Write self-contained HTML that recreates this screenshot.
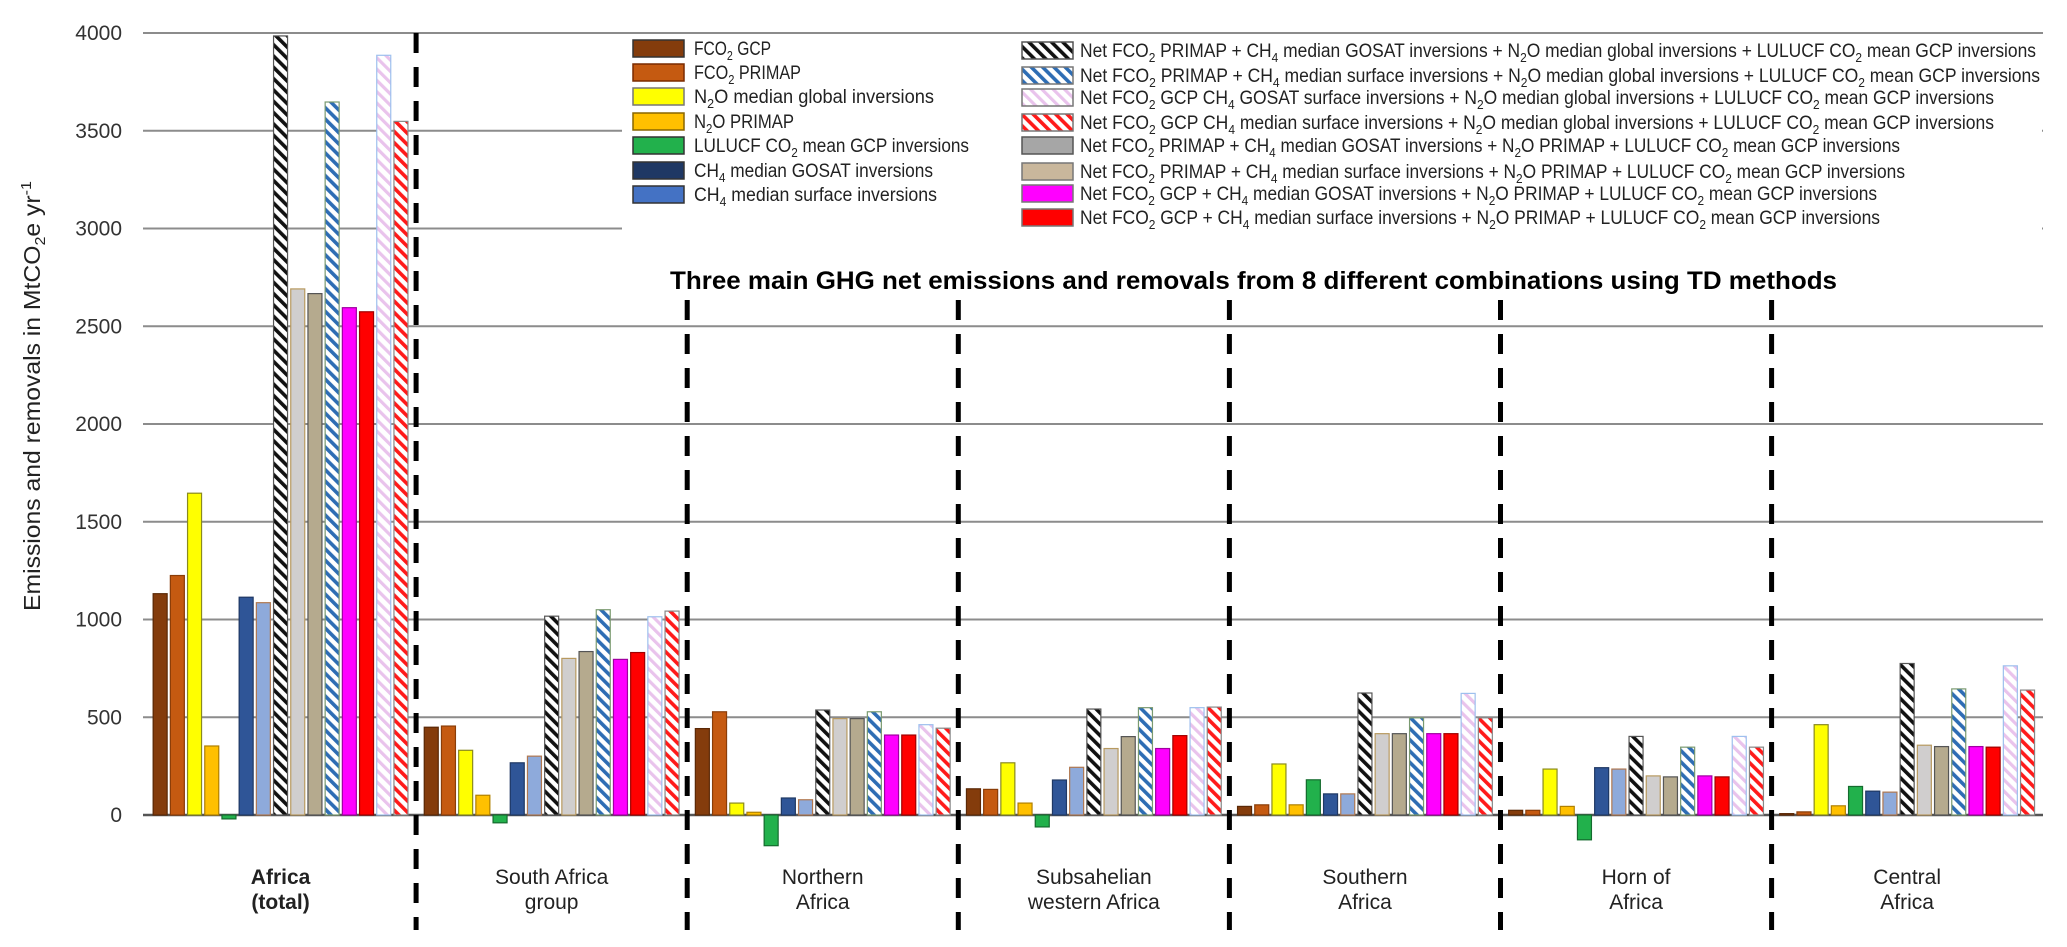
<!DOCTYPE html>
<html><head><meta charset="utf-8"><title>Africa GHG chart</title>
<style>
html,body{margin:0;padding:0;background:#fff;}
svg{display:block;font-family:"Liberation Sans Narrow","Liberation Sans",sans-serif;}
</style></head>
<body>
<svg id="chart" width="2067" height="947" viewBox="0 0 2067 947" xmlns="http://www.w3.org/2000/svg">
<defs>
<pattern id="h-black" patternUnits="userSpaceOnUse" width="8" height="8" patternTransform="rotate(-45)"><rect width="8" height="8" fill="#fff"/><rect width="3.6" height="8" fill="#111"/></pattern>
<pattern id="h-blue" patternUnits="userSpaceOnUse" width="8" height="8" patternTransform="rotate(-45)"><rect width="8" height="8" fill="#fff"/><rect width="3.6" height="8" fill="#2e6db4"/></pattern>
<pattern id="h-pink" patternUnits="userSpaceOnUse" width="8" height="8" patternTransform="rotate(-45)"><rect width="8" height="8" fill="#fff"/><rect width="3.2" height="8" fill="#e9c3ec"/></pattern>
<pattern id="h-red" patternUnits="userSpaceOnUse" width="8" height="8" patternTransform="rotate(-45)"><rect width="8" height="8" fill="#fff"/><rect width="3.6" height="8" fill="#ff1a1a"/></pattern>
</defs>
<g id="grid"></g>
<g id="yticks"></g>
<text transform="translate(40,396) rotate(-90)" text-anchor="middle" font-size="23" fill="#222" textLength="430" lengthAdjust="spacingAndGlyphs">Emissions and removals  in MtCO<tspan font-size="15" dy="5">2</tspan><tspan dy="-5">e yr</tspan><tspan font-size="15" dy="-9">-1</tspan></text>
<g id="bars"></g>
<rect x="622" y="36" width="1420" height="200" fill="#fff"/>
<g id="seps"></g>
<g id="glabels"></g>
<g id="legend"></g>
<text x="670" y="289" font-size="25" font-weight="bold" fill="#000" textLength="1167" lengthAdjust="spacingAndGlyphs">Three main GHG net emissions and removals from 8 different combinations using TD methods</text>
</svg>
<script>
const categories = ["Africa (total)","South Africa group","Northern Africa","Subsahelian western Africa","Southern Africa","Horn of Africa","Central Africa"];
const fco2Gcp      = [1132, 449, 442, 134, 44, 24, 7];
const fco2Primap   = [1225, 455, 528, 131, 52, 24, 16];
const n2oGlobal    = [1646, 331, 61, 267, 261, 235, 462];
const n2oPrimap    = [353, 101, 14, 61, 52, 44, 47];
const lulucf       = [-20, -40, -157, -61, 180, -127, 146];
const ch4Gosat     = [1114, 267, 87, 179, 108, 242, 122];
const ch4Surface   = [1086, 301, 78, 244, 108, 235, 117];
const netA         = [3985, 1017, 537, 542, 624, 402, 775];
const netE         = [2691, 801, 493, 340, 416, 200, 357];
const netF         = [2667, 836, 493, 401, 416, 195, 350];
const netB         = [3647, 1050, 528, 549, 497, 347, 645];
const netG         = [2595, 796, 409, 340, 416, 200, 350];
const netH         = [2574, 831, 409, 406, 416, 195, 347];
const netC         = [3886, 1014, 462, 549, 622, 402, 763];
const netD         = [3548, 1043, 444, 552, 497, 347, 639];
const yTicks = [0, 500, 1000, 1500, 2000, 2500, 3000, 3500, 4000];

const series = [
 {name:"fco2-gcp", v:fco2Gcp, fill:"#843c0c", st:"#5a2806"},
 {name:"fco2-primap", v:fco2Primap, fill:"#c55a11", st:"#8a3d08"},
 {name:"n2o-median-global", v:n2oGlobal, fill:"#ffff00", st:"#8a8a20"},
 {name:"n2o-primap", v:n2oPrimap, fill:"#ffc000", st:"#b08000"},
 {name:"lulucf-co2", v:lulucf, fill:"#22b14c", st:"#146b2e"},
 {name:"ch4-gosat", v:ch4Gosat, fill:"#2f5597", st:"#1f3864"},
 {name:"ch4-surface", v:ch4Surface, fill:"#8eaadb", st:"#b07850"},
 {name:"net-primap-gosat-n2oglobal", v:netA, fill:"url(#h-black)", st:"#555"},
 {name:"net-primap-gosat-n2oprimap", v:netE, fill:"#d0cece", st:"#b89a60"},
 {name:"net-primap-surface-n2oprimap", v:netF, fill:"#b5aa8e", st:"#555"},
 {name:"net-primap-surface-n2oglobal", v:netB, fill:"url(#h-blue)", st:"#7a9a70"},
 {name:"net-gcp-gosat-n2oprimap", v:netG, fill:"#ff00ff", st:"#a000a0"},
 {name:"net-gcp-surface-n2oprimap", v:netH, fill:"#ff0000", st:"#a00000"},
 {name:"net-gcp-gosat-n2oglobal", v:netC, fill:"url(#h-pink)", st:"#9ec0ee"},
 {name:"net-gcp-surface-n2oglobal", v:netD, fill:"url(#h-red)", st:"#888"}
];

const NS="http://www.w3.org/2000/svg";
const Y0=815, Y4000=33, XL=143, XR=2043, G0=145, GW=271.1, PITCH=17.2, BW=14;
function yScale(v){ return Y0 - v*(Y0-Y4000)/4000; }
function groupCenter(i){ return G0 + GW*i + GW/2; }
function barX(gi, si){ return groupCenter(gi) - (PITCH*14+BW)/2 + si*PITCH; }
function mk(tag, attrs, parent){ const e=document.createElementNS(NS,tag); for(const k in attrs) e.setAttribute(k,attrs[k]); parent.appendChild(e); return e; }

const grid=document.getElementById('grid'), yt=document.getElementById('yticks');
yTicks.forEach(t=>{
  const y=yScale(t);
  const ln=mk('line',{x1:XL,x2:XR,y1:y,y2:y,stroke:t===0?'#555':'#8c8c8c','stroke-width':t===0?2.5:2},grid);
  
  
  const tx=mk('text',{x:122,y:y+7,'text-anchor':'end','font-size':21,fill:'#333','font-family':'Liberation Sans, sans-serif'},yt);
  tx.textContent=String(t);
  
  
});

const bars=document.getElementById('bars');
categories.forEach((c,gi)=>{
  series.forEach((s,si)=>{
    const v=s.v[gi]; const y1=yScale(Math.max(v,0)), y2=yScale(Math.min(v,0));
    const r=mk('rect',{x:barX(gi,si),y:y1,width:BW,height:Math.max(y2-y1,1),fill:s.fill,stroke:s.st,'stroke-width':1.2},bars);
    
    
  });
});

const seps=document.getElementById('seps');
for(let i=1;i<7;i++){
  const x=G0+GW*i;
  const top = i===1?33:300;
  const l=mk('line',{x1:x,x2:x,y1:top,y2:930,stroke:'#000','stroke-width':5,'stroke-dasharray':'20 14'},seps);
  
  
}

const gl=document.getElementById('glabels');
const labelLines=[["Africa","(total)"],["South Africa","group"],["Northern","Africa"],["Subsahelian","western Africa"],["Southern","Africa"],["Horn of","Africa"],["Central","Africa"]];
labelLines.forEach((ls,i)=>{
  ls.forEach((t,j)=>{
    const tx=mk('text',{x:groupCenter(i),y:884+j*25,'text-anchor':'middle','font-size':21,fill:'#222','font-weight':i===0?'bold':'normal'},gl);
    tx.textContent=t;
    
    
  });
});

const lg=document.getElementById('legend');
function legendItem(x, y, fill, stroke, parts, len, tx){
  const sw=mk('rect',{x:x,y:y-9,width:51,height:17,fill:fill,stroke:stroke,'stroke-width':1.5},lg);
  
  
  const t=mk('text',{x:tx,y:y+6,'font-size':19,fill:'#222',textLength:len,lengthAdjust:'spacingAndGlyphs'},lg);
  
  
  parts.forEach(p=>{
    const ts=document.createElementNS(NS,'tspan');
    if(p[1]){ ts.setAttribute('font-size','13'); ts.setAttribute('dy','5'); }
    else if(p[2]){ ts.setAttribute('dy','-5'); }
    ts.textContent=p[0]; t.appendChild(ts);
  });
}
// parts: [text, isSub, afterSub]
const L=[
 ["#843c0c","#333",[["FCO"],["2",1],[" GCP",0,1]],77],
 ["#c55a11","#7a2b00",[["FCO"],["2",1],[" PRIMAP",0,1]],107],
 ["#ffff00","#777",[["N"],["2",1],["O median global inversions",0,1]],240],
 ["#ffc000","#886600",[["N"],["2",1],["O PRIMAP",0,1]],100],
 ["#22b14c","#333",[["LULUCF CO"],["2",1],[" mean GCP inversions",0,1]],275],
 ["#1f3864","#333",[["CH"],["4",1],[" median GOSAT inversions",0,1]],239],
 ["#4472c4","#333",[["CH"],["4",1],[" median surface inversions",0,1]],243]
];
const LY=[49,73,97,122,146,171,195];
L.forEach((it,i)=>legendItem(633,LY[i],it[0],it[1],it[2],it[3],694));
const R=[
 ["url(#h-black)","#555",[["Net  FCO"],["2",1],[" PRIMAP + CH",0,1],["4",1],[" median GOSAT inversions + N",0,1],["2",1],["O median global inversions + LULUCF CO",0,1],["2",1],[" mean GCP inversions",0,1]],956],
 ["url(#h-blue)","#777",[["Net  FCO"],["2",1],[" PRIMAP + CH",0,1],["4",1],[" median surface inversions + N",0,1],["2",1],["O median global inversions + LULUCF CO",0,1],["2",1],[" mean GCP inversions",0,1]],960],
 ["url(#h-pink)","#777",[["Net  FCO"],["2",1],[" GCP CH",0,1],["4",1],["  GOSAT surface inversions + N",0,1],["2",1],["O median global inversions + LULUCF CO",0,1],["2",1],[" mean GCP inversions",0,1]],914],
 ["url(#h-red)","#777",[["Net  FCO"],["2",1],[" GCP CH",0,1],["4",1],[" median surface inversions + N",0,1],["2",1],["O median global inversions + LULUCF CO",0,1],["2",1],[" mean GCP inversions",0,1]],914],
 ["#a6a6a6","#555",[["Net  FCO"],["2",1],[" PRIMAP + CH",0,1],["4",1],[" median GOSAT inversions + N",0,1],["2",1],["O PRIMAP + LULUCF CO",0,1],["2",1],[" mean GCP inversions",0,1]],820],
 ["#c9b79c","#777",[["Net  FCO"],["2",1],[" PRIMAP + CH",0,1],["4",1],[" median surface inversions + N",0,1],["2",1],["O PRIMAP + LULUCF CO",0,1],["2",1],[" mean GCP inversions",0,1]],825],
 ["#ff00ff","#777",[["Net  FCO"],["2",1],[" GCP  + CH",0,1],["4",1],[" median GOSAT inversions + N",0,1],["2",1],["O PRIMAP + LULUCF CO",0,1],["2",1],[" mean GCP inversions",0,1]],797],
 ["#ff0000","#777",[["Net  FCO"],["2",1],[" GCP  + CH",0,1],["4",1],[" median surface inversions + N",0,1],["2",1],["O PRIMAP + LULUCF CO",0,1],["2",1],[" mean GCP inversions",0,1]],800]
];
const RY=[51,76,98,123,146,172,194,218];
R.forEach((it,i)=>legendItem(1022,RY[i],it[0],it[1],it[2],it[3],1080));
</script>
</body></html>
